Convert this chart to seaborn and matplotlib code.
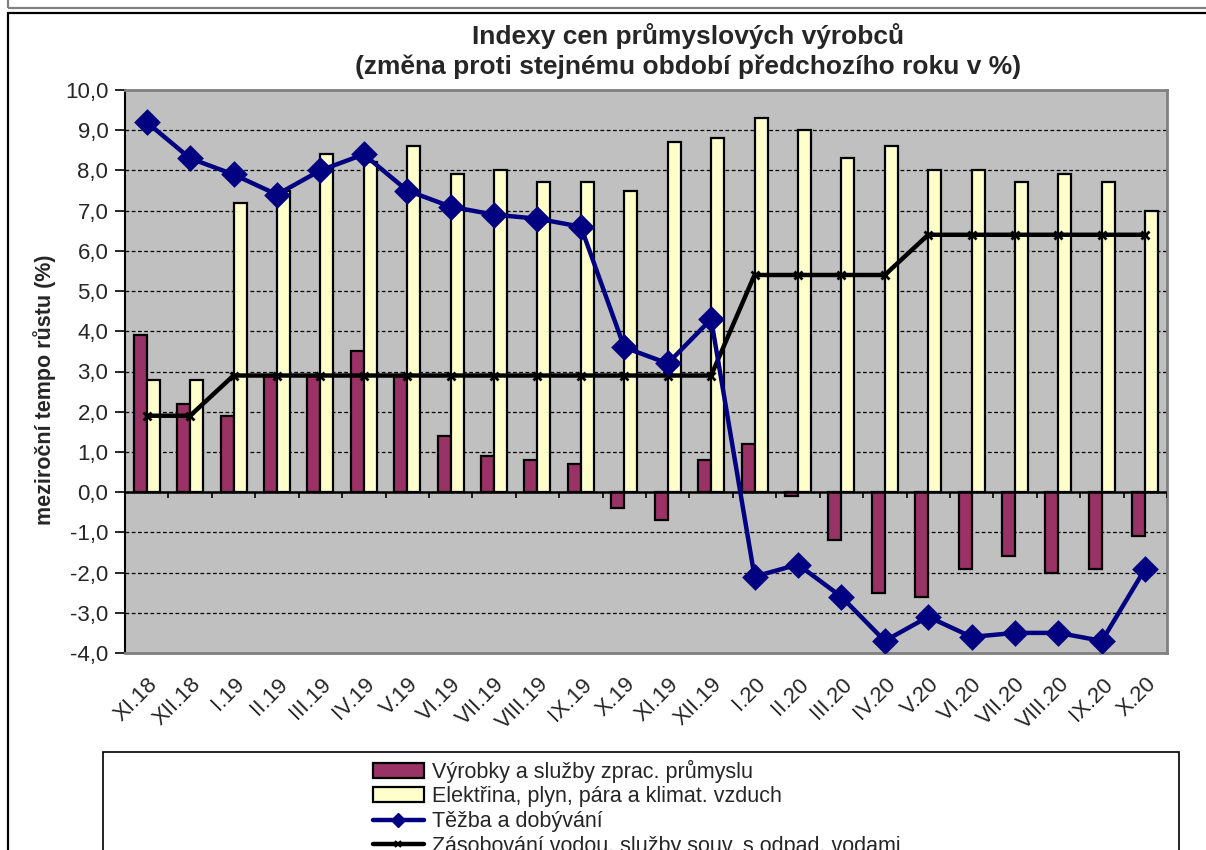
import seaborn as sns
import matplotlib.pyplot as plt
import pandas as pd
from matplotlib.patches import Patch, Rectangle
from matplotlib.lines import Line2D
from matplotlib.ticker import FuncFormatter, MultipleLocator

mesice = ["XI.18", "XII.18", "I.19", "II.19", "III.19", "IV.19", "V.19", "VI.19",
          "VII.19", "VIII.19", "IX.19", "X.19", "XI.19", "XII.19", "I.20", "II.20",
          "III.20", "IV.20", "V.20", "VI.20", "VII.20", "VIII.20", "IX.20", "X.20"]

zprac = [3.9, 2.2, 1.9, 2.9, 2.9, 3.5, 2.9, 1.4, 0.9, 0.8, 0.7, -0.4,
         -0.7, 0.8, 1.2, -0.1, -1.2, -2.5, -2.6, -1.9, -1.6, -2.0, -1.9, -1.1]
elektrina = [2.8, 2.8, 7.2, 7.5, 8.4, 8.2, 8.6, 7.9, 8.0, 7.7, 7.7, 7.5,
             8.7, 8.8, 9.3, 9.0, 8.3, 8.6, 8.0, 8.0, 7.7, 7.9, 7.7, 7.0]
tezba = [9.2, 8.3, 7.9, 7.4, 8.0, 8.4, 7.5, 7.1, 6.9, 6.8, 6.6, 3.6,
         3.2, 4.3, -2.1, -1.8, -2.6, -3.7, -3.1, -3.6, -3.5, -3.5, -3.7, -1.9]
voda = [1.9, 1.9, 2.9, 2.9, 2.9, 2.9, 2.9, 2.9, 2.9, 2.9, 2.9, 2.9,
        2.9, 2.9, 5.4, 5.4, 5.4, 5.4, 6.4, 6.4, 6.4, 6.4, 6.4, 6.4]

nazvy = ["Výrobky a služby zprac. průmyslu",
         "Elektřina, plyn, pára a klimat. vzduch",
         "Těžba a dobývání",
         "Zásobování vodou, služby souv. s odpad. vodami"]

sns.set_style("ticks")
plt.rcParams["font.family"] = ["Liberation Sans", "DejaVu Sans"]

bary = pd.DataFrame({
    "mesic": mesice * 2,
    "hodnota": zprac + elektrina,
    "rada": [nazvy[0]] * len(mesice) + [nazvy[1]] * len(mesice),
})

fig = plt.figure(figsize=(12.06, 8.5), dpi=100)
ax = fig.add_axes([125 / 1206, 1 - 653 / 850, (1167 - 125) / 1206, (653 - 90) / 850])
ax.set_facecolor("#C0C0C0")

sns.barplot(data=bary, x="mesic", y="hodnota", hue="rada", order=mesice,
            palette=["#993366", "#FFFFCC"], saturation=1, width=0.6, gap=0,
            edgecolor="black", linewidth=1.6, legend=False, ax=ax, zorder=3)
sns.pointplot(x=mesice, y=tezba, color="#000080", marker="D", markersize=11,
              linewidth=3.2, errorbar=None, ax=ax, zorder=5)
sns.pointplot(x=mesice, y=voda, color="black", marker="x", markersize=6,
              markeredgewidth=2, linewidth=3.2, errorbar=None, ax=ax, zorder=4)

ax.set_xlim(-0.5, len(mesice) - 0.5)
ax.set_ylim(-4, 10)
ax.yaxis.set_major_locator(MultipleLocator(1))
ax.yaxis.set_major_formatter(FuncFormatter(lambda v, p: f"{v:.1f}".replace(".", ",")))
ax.grid(axis="y", color="black", linestyle=(0, (3, 2)), linewidth=0.9, zorder=1)
ax.grid(axis="x", visible=False)
ax.set_axisbelow(True)

# osa kategorii protina nulu
ax.axhline(0, color="black", linewidth=1.8, zorder=4)
ax.vlines([i - 0.5 for i in range(len(mesice) + 1)], -0.14, 0, color="black",
          linewidth=1.2, zorder=4)

ax.set_xlabel("")
ax.set_ylabel("")
ax.tick_params(axis="y", labelsize=16, length=7, width=1.2, color="black", pad=5)
ax.tick_params(axis="x", labelsize=16, length=0, pad=15)
plt.setp(ax.get_xticklabels(), rotation=45, ha="right", rotation_mode="anchor")

for s in ["top", "right", "bottom"]:
    ax.spines[s].set_color("#808080")
    ax.spines[s].set_linewidth(2)
ax.spines["left"].set_color("black")
ax.spines["left"].set_linewidth(1.5)

fig.text(688 / 1206, 1 - 36 / 850, "Indexy cen průmyslových výrobců",
         ha="center", va="center", fontsize=19, fontweight="bold")
fig.text(688 / 1206, 1 - 67 / 850, "(změna proti stejnému období předchozího roku v %)",
         ha="center", va="center", fontsize=19, fontweight="bold")
fig.text(45 / 1206, 1 - 390 / 850, "meziroční tempo růstu (%)", rotation=90,
         ha="center", va="center", fontsize=15.5, fontweight="bold")

# ramecky
fig.add_artist(Rectangle((8 / 1206, -0.1), 1.1, 1.1 - 13 / 850, transform=fig.transFigure,
                         fill=False, edgecolor="black", linewidth=1.6))
fig.add_artist(Rectangle((8 / 1206, 1 - 8 / 850), 1.1, 0.2, transform=fig.transFigure,
                         fill=False, edgecolor="#808080", linewidth=1.6))
fig.add_artist(Rectangle((103 / 1206, -0.1), (1179 - 103) / 1206, 0.1 + 1 - 752 / 850,
                         transform=fig.transFigure, fill=False, edgecolor="black",
                         linewidth=1.2))

handles = [
    Patch(facecolor="#993366", edgecolor="black", linewidth=1.6),
    Patch(facecolor="#FFFFCC", edgecolor="black", linewidth=1.6),
    Line2D([], [], color="#000080", linewidth=3.2, marker="D", markersize=7),
    Line2D([], [], color="black", linewidth=3.2, marker="x", markersize=5, markeredgewidth=1.5),
]
fig.legend(handles, nazvy, loc="upper left", bbox_to_anchor=(364 / 1206, 1 - 751 / 850),
           frameon=False, fontsize=15.5, handlelength=2.4, handletextpad=0.35,
           labelspacing=0.17, borderaxespad=0)

fig.savefig("out.png", dpi=100)
